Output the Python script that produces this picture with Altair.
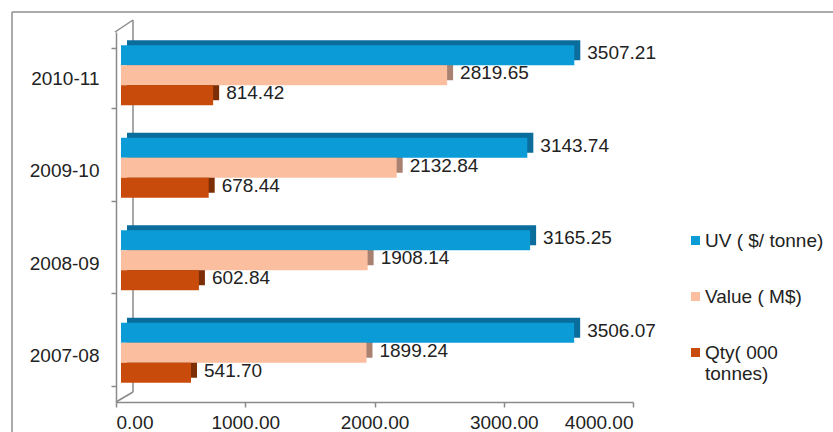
import altair as alt
import pandas as pd

years = ["2007-08", "2008-09", "2009-10", "2010-11"]
series = ["UV ( $/ tonne)", "Value ( M$)", "Qty( 000 tonnes)"]
uv_values = [3506.07, 3165.25, 3143.74, 3507.21]
value_values = [1899.24, 1908.14, 2132.84, 2523.0]
qty_values = [541.70, 602.84, 678.44, 713.0]
uv_labels = ["3506.07", "3165.25", "3143.74", "3507.21"]
value_labels = ["1899.24", "1908.14", "2132.84", "2819.65"]
qty_labels = ["541.70", "602.84", "678.44", "814.42"]
x_ticks = [0, 1000, 2000, 3000, 4000]

front_colors = ["#0B9BD7", "#FBBE9F", "#C94B0B"]
side_colors = ["#0A6D9B", "#A98170", "#7C2E06"]
FONT = "Liberation Sans"
FS = 19
TXT = "#222222"
AX = "#8A8A8A"

rows = []
for vals, labs, s in [(uv_values, uv_labels, series[0]),
                      (value_values, value_labels, series[1]),
                      (qty_values, qty_labels, series[2])]:
    for y, v, l in zip(years, vals, labs):
        rows.append({"Year": y, "Series": s, "Amount": v, "Label": l})
df = pd.DataFrame(rows)

y_sort = list(reversed(years))
BW = 370 / 4 * 0.65  # band width of a year group in pixels

x_enc = alt.X("Amount:Q",
              scale=alt.Scale(domain=[0, 4000], nice=False),
              axis=alt.Axis(values=x_ticks, format=".2f", grid=False, title=None,
                            domainColor=AX, tickColor=AX, domainWidth=1.5, tickWidth=1.5,
                            tickSize=5, labelFontSize=FS, labelFont=FONT, labelColor=TXT,
                            labelPadding=6))
y_enc = alt.Y("Year:N", sort=y_sort,
              scale=alt.Scale(paddingInner=0.35, paddingOuter=0.175),
              axis=alt.Axis(title=None, tickBand="extent", tickSize=5, domainColor=AX,
                            tickColor=AX, domainWidth=1.5, tickWidth=1.5,
                            labelFontSize=FS, labelFont=FONT, labelColor=TXT, labelPadding=12))


def yoff(shift):
    return alt.YOffset("Series:N", sort=series,
                       scale=alt.Scale(domain=series, range=[shift, BW + shift]))


base = alt.Chart(df)

side = base.mark_bar(xOffset=11).encode(
    x=x_enc, y=y_enc, yOffset=yoff(-8),
    color=alt.Color("Series:N", sort=series,
                    scale=alt.Scale(domain=series, range=side_colors), legend=None),
)

front = base.mark_bar(xOffset=5).encode(
    x=x_enc, y=y_enc, yOffset=yoff(-3),
    color=alt.Color("Series:N", sort=series,
                    scale=alt.Scale(domain=series, range=front_colors),
                    legend=alt.Legend(orient="none", legendX=570, legendY=199, title=None,
                                      labelFontSize=FS, labelFont=FONT, labelColor=TXT,
                                      symbolType="square", symbolSize=81, symbolStrokeWidth=0,
                                      rowPadding=36, padding=0, labelOffset=0, labelLimit=200,
                                      labelExpr="datum.label == 'Qty( 000 tonnes)' ? ['Qty( 000', 'tonnes)'] : datum.label")),
)

labels = base.mark_text(align="left", baseline="middle", dx=18, dy=-2,
                        font=FONT, fontSize=FS, color=TXT).encode(
    x=alt.X("Amount:Q"), y=alt.Y("Year:N", sort=y_sort), yOffset=yoff(-3), text="Label:N",
)

# 3D wall decoration lines
wall_back = alt.Chart().mark_rule(color=AX, strokeWidth=1.5).encode(
    x=alt.value(17), y=alt.value(-12), y2=alt.value(360))
wall_top = alt.Chart().mark_rule(color=AX, strokeWidth=1.5).encode(
    x=alt.value(-1), x2=alt.value(17), y=alt.value(0), y2=alt.value(-12))
wall_bottom = alt.Chart().mark_rule(color=AX, strokeWidth=1.5).encode(
    x=alt.value(0), x2=alt.value(17), y=alt.value(370), y2=alt.value(360))
frame_top = alt.Chart().mark_rule(color="#8F8F8F", strokeWidth=1.5).encode(
    x=alt.value(-104), x2=alt.value(720), y=alt.value(-20))
frame_left = alt.Chart().mark_rule(color="#8F8F8F", strokeWidth=1.5).encode(
    x=alt.value(-104), y=alt.value(-20), y2=alt.value(420))

chart = alt.layer(
    frame_top, frame_left, wall_back, wall_top, wall_bottom, side, front, labels
).resolve_scale(color="independent", yOffset="independent").properties(
    width=517, height=370,
    autosize="none",
    padding={"left": 116, "top": 32, "right": 200, "bottom": 30},
    background="white",
).configure_view(stroke=None)

chart.save("out.html", embed_options={"renderer": "svg", "actions": False})
